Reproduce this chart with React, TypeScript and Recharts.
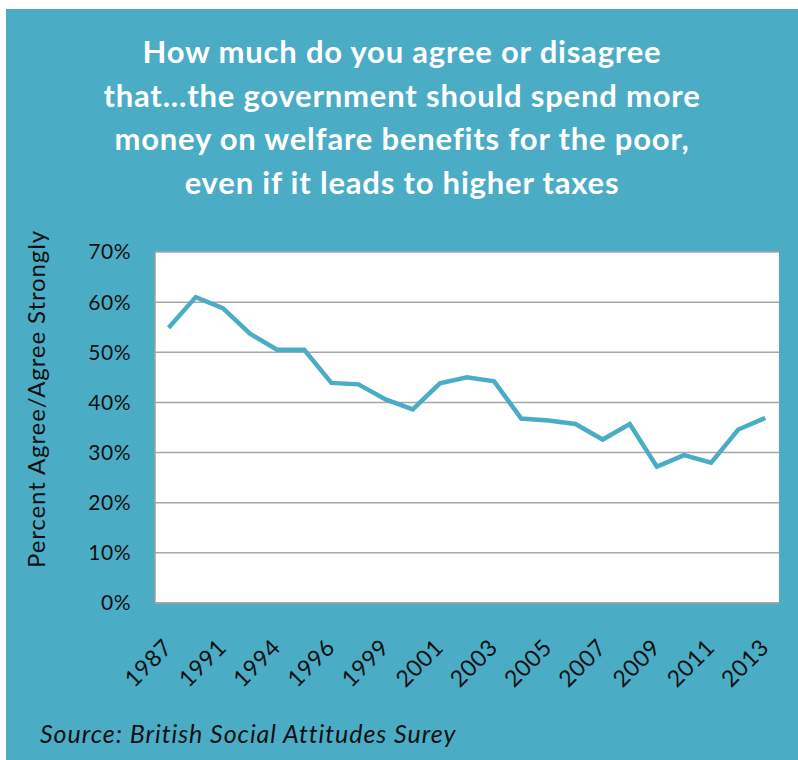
import React from 'react';
import { LineChart, Line, XAxis, YAxis, CartesianGrid } from 'recharts';

// survey years (BSA not run every year)
const years = [
  '1987', '1989', '1991', '1993', '1994', '1995', '1996', '1998', '1999', '2000', '2001', '2002',
  '2003', '2004', '2005', '2006', '2007', '2008', '2009', '2010', '2011', '2012', '2013',
];
// percent agree / agree strongly
const agreeShare = [
  54.9, 61.0, 58.8, 53.7, 50.5, 50.5, 43.9, 43.6, 40.6, 38.6, 43.8, 45.0,
  44.2, 36.8, 36.4, 35.7, 32.6, 35.7, 27.2, 29.5, 28.0, 34.6, 36.9,
];
const percentTicks = [0, 10, 20, 30, 40, 50, 60, 70];

const titleLines = [
  'How much do you agree or disagree',
  'that...the government should spend more',
  'money on welfare benefits for the poor,',
  'even if it leads to higher taxes',
];

const data = years.map((year, i) => ({ year, value: agreeShare[i] }));

const TEAL = '#4BACC6';
const FONT = 'Lato, "Open Sans", sans-serif';

const YearTick = (props: any) => {
  const { x, y, payload } = props;
  const bx = x + 5;
  const by = y + 46;
  return (
    <text
      x={bx}
      y={by}
      transform={`rotate(-45 ${bx} ${by})`}
      textAnchor="end"
      fill="#111"
      fontSize={23}
      letterSpacing={0.6}
      fontFamily={FONT}
    >
      {payload.value}
    </text>
  );
};

export default function App() {
  return (
    <div style={{ position: 'absolute', left: 0, top: 0, width: 798, height: 760, background: '#fff', overflow: 'hidden' }}>
      <div style={{ position: 'absolute', left: 6, top: 9, width: 792, height: 751, background: TEAL }} />
      <div
        style={{
          position: 'absolute',
          left: 6,
          top: 30,
          width: 792,
          textAlign: 'center',
          color: '#fff',
          fontFamily: FONT,
          fontWeight: 700,
          fontSize: 31,
          letterSpacing: 0.8,
          lineHeight: '43.6px',
        }}
      >
        {titleLines.map((l) => (
          <div key={l}>{l}</div>
        ))}
      </div>
      <div
        style={{
          position: 'absolute',
          left: 36 - 200,
          top: 399 - 15,
          width: 400,
          height: 30,
          lineHeight: '30px',
          textAlign: 'center',
          transform: 'rotate(-90deg)',
          color: '#111',
          fontFamily: FONT,
          fontSize: 24,
          letterSpacing: 0.9,
        }}
      >
        Percent Agree/Agree Strongly
      </div>
      <div
        style={{
          position: 'absolute',
          left: 40,
          top: 718,
          color: '#111',
          fontFamily: FONT,
          fontStyle: 'italic',
          fontSize: 25,
          letterSpacing: 0.95,
          whiteSpace: 'nowrap',
        }}
      >
        Source: British Social Attitudes Surey
      </div>
      <div style={{ position: 'absolute', left: 0, top: 0 }}>
        <LineChart width={798} height={760} data={data} margin={{ top: 252, right: 19, bottom: 97, left: 95 }}>
          <CartesianGrid vertical={false} fill="#ffffff" stroke="#A6A6A6" strokeWidth={1.5} />
          <XAxis
            dataKey="year"
            interval={1}
            height={60}
            padding={{ left: 13.6, right: 13.6 }}
            axisLine={{ stroke: '#A0A0A0', strokeWidth: 1.5 }}
            tickLine={false}
            tickSize={0}
            tickMargin={0}
            tick={<YearTick />}
          />
          <YAxis
            width={60}
            domain={[0, 70]}
            ticks={percentTicks}
            tickFormatter={(v: number) => `${v}%`}
            axisLine={{ stroke: '#A0A0A0', strokeWidth: 1.5 }}
            tickLine={false}
            tickSize={0}
            tickMargin={24}
            tick={{ fill: '#111', fontSize: 21, letterSpacing: 0.5, fontFamily: FONT }}
          />
          <Line
            type="linear"
            dataKey="value"
            stroke={TEAL}
            strokeWidth={4.5}
            dot={false}
            isAnimationActive={false}
          />
        </LineChart>
      </div>
    </div>
  );
}
